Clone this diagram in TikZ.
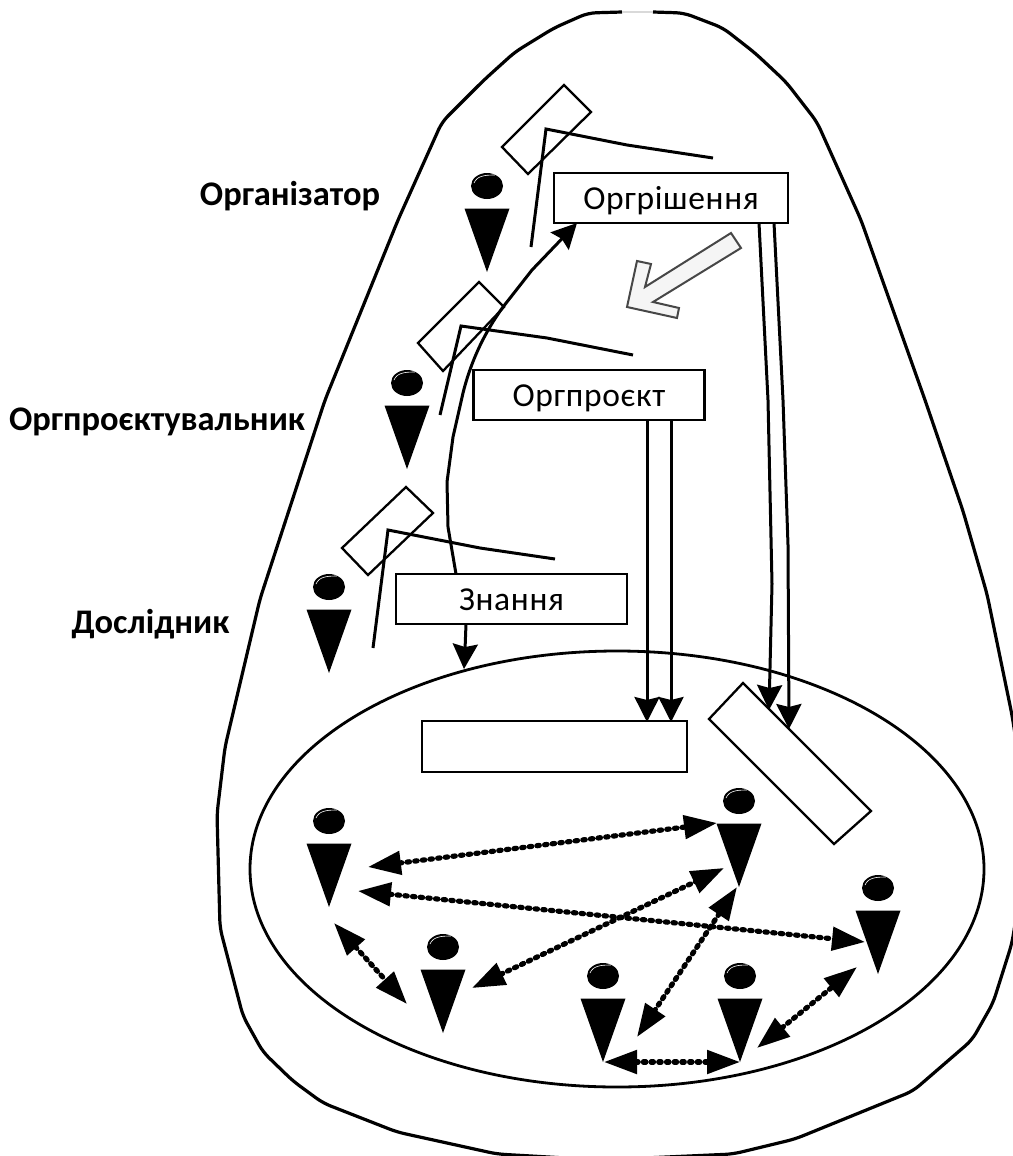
\documentclass[tikz,border=0pt]{standalone}
\usepackage{fontspec}
\setmainfont{Carlito}
\newfontfamily\labelfont{Carlito}
\newfontfamily\boxfont[LetterSpace=2]{Carlito}
\usetikzlibrary{arrows.meta,shapes.geometric}
\definecolor{arrowfill}{HTML}{F5F5F5}
\definecolor{arrowedge}{HTML}{474747}
\tikzset{
  x=1pt,y=-1pt,
  outerline/.style={draw=black,line width=3.2pt,line join=round,rounded corners=8pt},
  stick/.style={draw=black,line width=3pt,line join=miter},
  tiltbox/.style={draw=black,line width=2.3pt,line join=miter},
  infobox/.style={draw=black,fill=white,line width=2.8pt,rectangle,inner sep=0pt,outer sep=0pt,text height=23pt,text depth=0pt,font=\boxfont\fontsize{33.5}{36}\selectfont},
  rolelabel/.style={inner sep=0pt,anchor=base,font=\labelfont\bfseries\fontsize{34.5}{38}\selectfont},
  flow/.style={draw=black,line width=3pt,-{Stealth[length=25pt,width=25pt,inset=3pt]}},
  talk/.style={draw=black,line width=5.2pt,line cap=round,dash pattern=on 2.4pt off 5.3pt,
    {Triangle[length=33pt,width=23pt]}-{Triangle[length=33pt,width=23pt]}},
  person/.pic={
    \fill[black] (-22.5,-63.5) -- (22.5,-63.5) -- (0,0) -- cycle;
    \fill[black] (0,-86) ellipse [x radius=16pt,y radius=13pt];
    \draw[white,line width=.6pt] (-13,-89) .. controls (-10,-96) and (-3,-97) .. (8,-97);
  }
}
\begin{document}
\begin{tikzpicture}
\useasboundingbox (0,0) rectangle (1012,1156);
% outer form
\draw[outerline] (653,12) -- (684,13) -- (723,28) -- (755,53) -- (786,82) -- (817,122)
  -- (861,220) -- (925,400) -- (963,511) -- (987,594) -- (1012,715) -- (1030,830) -- (1012,943)
  -- (993,1003) -- (972,1040) -- (913,1091) -- (795,1139) -- (733,1154) -- (600,1160)
  -- (497,1154) -- (397,1132) -- (323,1103) -- (293,1081) -- (263,1052) -- (243,1016)
  -- (220,928) -- (217,814) -- (225,747) -- (260,599) -- (325,400) -- (398,220)
  -- (442,122) -- (484,80) -- (515,52) -- (554,28) -- (588,13) -- (622,12);
\draw[line width=1.5pt,black!15] (622,12) -- (653,12);
% inner field
\node[ellipse,draw=black,line width=2.8pt,inner sep=0pt,minimum width=734pt,minimum height=436pt] (field) at (617,869) {};
% tilted boxes
\draw[tiltbox] (564,85) -- (591,112) -- (528,174) -- (502,147) -- cycle;
\draw[tiltbox] (479,282) -- (504,307) -- (443,371) -- (418,343) -- cycle;
\draw[tiltbox] (406,487) -- (433,513) -- (368,575) -- (342,548) -- cycle;
\draw[tiltbox] (743,683) -- (871,811) -- (834,844) -- (709,719) -- cycle;
% angled sticks
\draw[stick] (531,247) -- (546,129) -- (627,145) -- (713,158);
\draw[stick] (440,415) -- (461,326) -- (547,338) -- (633,355);
\draw[stick] (373,648) -- (388,530) -- (480,548) -- (555,559);
% boxes
\node[infobox,minimum width=234pt,minimum height=50pt] (decision) at (671,198) {Оргрішення};
\node[infobox,minimum width=231pt,minimum height=50pt] (project) at (589,395) {Оргпроєкт};
\node[infobox,minimum width=231pt,minimum height=50pt] (knowledge) at (511.5,599) {Знання};
\node[infobox,minimum width=265pt,minimum height=51pt] (blank) at (554.5,746.5) {};
% role labels
\node[rolelabel] (rolea) at (290,205) {Організатор};
\node[rolelabel] (roleb) at (157,430) {Оргпроєктувальник};
\node[rolelabel] (rolec) at (150.5,633) {Дослідник};
% persons
\pic at (487,272) {person};
\pic at (407,469) {person};
\pic at (329,673) {person};
\pic at (329,907) {person};
\pic at (443,1033) {person};
\pic at (603,1062) {person};
\pic at (740,1062) {person};
\pic at (739,887) {person};
\pic at (878,974) {person};
% end points of connectors
\coordinate (ks) at (456,574);
\coordinate (kt) at (577,223);
\coordinate (da) at (759,223); \coordinate (dat) at (769,710);
\coordinate (db) at (774,223); \coordinate (dbt) at (789,729);
\coordinate (pa) at (647,420); \coordinate (pat) at (647,722);
\coordinate (pb) at (671,420); \coordinate (pbt) at (671,722);
\coordinate (ka) at (466,624); \coordinate (kat) at (464,669);
% curved arrow from knowledge to decision
\draw[flow] (ks) -- (448,527) -- (447,482) -- (453,437) -- (463,393) .. controls (473,353) and (490,325) .. (503,307) -- (532,270) -- (kt);
% flows
\draw[flow] (da) -- (768,400) -- (772,584) -- (dat);
\draw[flow] (db) -- (783,400) -- (788,545) -- (dbt);
\draw[flow] (pa) -- (pat);
\draw[flow] (pb) -- (pbt);
\draw[flow] (ka) -- (465,650) -- (kat);
% big hollow arrow
\draw[draw=arrowedge,fill=arrowfill,line width=2pt,line join=miter]
  (731,233) -- (741,248) -- (653,302) -- (679,308) -- (677,318) -- (627,307) -- (637,261) -- (651,264) -- (645,287) -- cycle;
% communication arrows
\coordinate (c1a) at (368,867); \coordinate (c1b) at (717,823);
\coordinate (c2a) at (358,891); \coordinate (c2b) at (865,942);
\coordinate (c3a) at (334,923); \coordinate (c3b) at (407,1004);
\coordinate (c4a) at (472,988); \coordinate (c4b) at (724,868);
\coordinate (c5a) at (737,887); \coordinate (c5b) at (637,1037);
\coordinate (c6a) at (604,1062); \coordinate (c6b) at (740,1062);
\coordinate (c7a) at (757,1048); \coordinate (c7b) at (857,967);
\draw[talk] (c1a) -- (c1b);
\draw[talk] (c2a) -- (c2b);
\draw[talk] (c3a) -- (c3b);
\draw[talk] (c4a) -- (c4b);
\draw[talk] (c5a) -- (c5b);
\draw[talk] (c6a) -- (c6b);
\draw[talk] (c7a) -- (c7b);
\end{tikzpicture}
\end{document}
